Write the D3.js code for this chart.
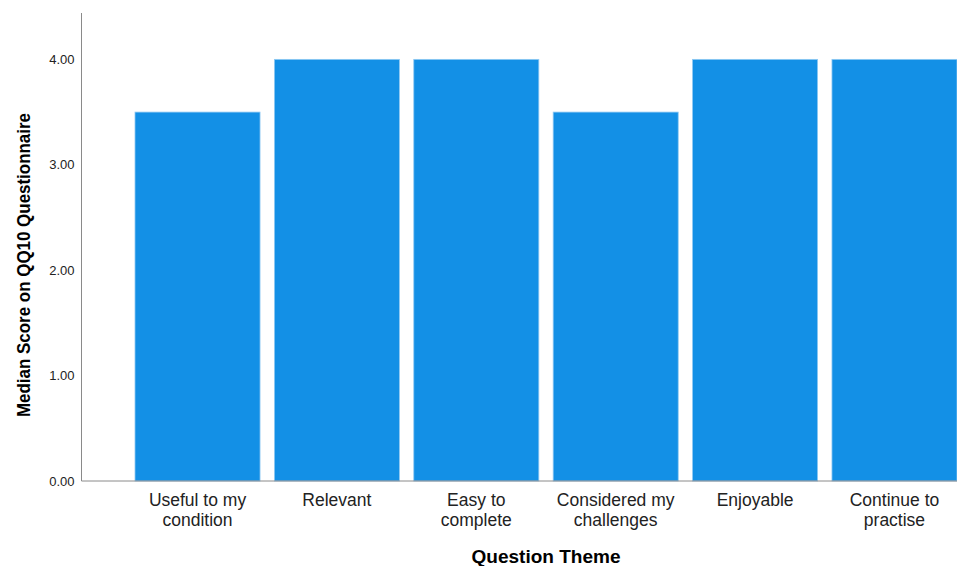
<!DOCTYPE html>
<html>
<head>
<meta charset="utf-8">
<script src="https://cdn.jsdelivr.net/npm/d3@7"></script>
<style>
  body { margin: 0; background: #fff; }
  text { font-family: Arial, "Liberation Sans", sans-serif; }
</style>
</head>
<body>
<div id="chart"></div>
<script>
// median scores per question theme
var categories = [
  ["Useful to my", "condition"],
  ["Relevant"],
  ["Easy to", "complete"],
  ["Considered my", "challenges"],
  ["Enjoyable"],
  ["Continue to", "practise"]
];
var medians = [3.5, 4, 4, 3.5, 4, 4];
var yTicks = [0, 1, 2, 3, 4];

var width = 957, height = 566;
var margin = {top: 13, right: 0, bottom: 85, left: 81.5};

var svg = d3.select("#chart")
  .append("svg")
  .attr("width", width)
  .attr("height", height);

var x = d3.scaleBand()
  .domain(d3.range(categories.length))
  .range([135, 957])
  .paddingInner(0.103)
  .paddingOuter(0);

var y = d3.scaleLinear()
  .domain([0, 4.44])
  .range([481, margin.top]);

// bars
svg.selectAll("rect.bar")
  .data(medians)
  .enter()
  .append("rect")
  .attr("class", "bar")
  .attr("x", function(d, i) { return x(i); })
  .attr("y", function(d) { return y(d); })
  .attr("width", x.bandwidth())
  .attr("height", function(d) { return y(0) - y(d); })
  .attr("fill", "#1390e6")
  .attr("stroke", "#8fc9f3")
  .attr("stroke-width", 0.8);

// y axis (line + labels, no tick marks)
var yAxis = svg.append("g")
  .attr("transform", "translate(" + margin.left + ",0)")
  .call(d3.axisLeft(y).tickValues(yTicks).tickFormat(d3.format(".2f")).tickSize(0).tickPadding(7));
yAxis.select(".domain").attr("stroke", "#8a8a8a").attr("d", "M0," + y(0) + "V" + margin.top);
yAxis.selectAll("text").attr("font-size", 13).attr("fill", "#222").style("font-family", "Arial, 'Liberation Sans', sans-serif");

// x axis line
var xAxis = svg.append("g")
  .attr("transform", "translate(0," + y(0) + ")")
  .call(d3.axisBottom(x).tickSize(0).tickFormat(""));
xAxis.select(".domain").attr("stroke", "#8a8a8a").attr("d", "M" + margin.left + ",0H" + width);

// category labels (wrapped)
var labels = svg.selectAll("text.cat")
  .data(categories)
  .enter()
  .append("text")
  .attr("class", "cat")
  .attr("text-anchor", "middle")
  .attr("font-size", 17.5)
  .attr("fill", "#222")
  .attr("x", function(d, i) { return x(i) + x.bandwidth() / 2; })
  .attr("y", 506);
labels.selectAll("tspan")
  .data(function(d) { return d; })
  .enter()
  .append("tspan")
  .attr("x", function() { return d3.select(this.parentNode).attr("x"); })
  .attr("dy", function(d, j) { return j === 0 ? 0 : 19.5; })
  .text(function(d) { return d; });

// axis titles
svg.append("text")
  .attr("x", 546)
  .attr("y", 563)
  .attr("text-anchor", "middle")
  .attr("font-size", 17.5)
  .attr("font-weight", "bold")
  .attr("fill", "#000")
  .attr("textLength", 149)
  .attr("lengthAdjust", "spacingAndGlyphs")
  .text("Question Theme");

svg.append("text")
  .attr("transform", "translate(30,265) rotate(-90)")
  .attr("text-anchor", "middle")
  .attr("font-size", 18)
  .attr("font-weight", "bold")
  .attr("fill", "#000")
  .attr("textLength", 304)
  .attr("lengthAdjust", "spacingAndGlyphs")
  .text("Median Score on QQ10 Questionnaire");
</script>
</body>
</html>
